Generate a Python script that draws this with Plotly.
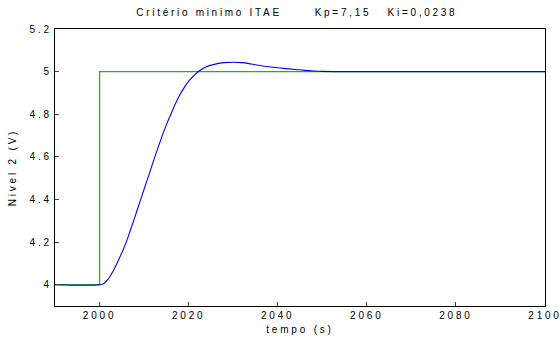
import plotly.graph_objects as go

# Reference (setpoint) step
ref_t = [1990, 2000, 2000, 2100]
ref_y = [4.0, 4.0, 5.0, 5.0]

# Measured level response
resp_t = [1990, 2000, 2001, 2002, 2003, 2004, 2005, 2006, 2007, 2008, 2009, 2010,
          2011, 2012, 2013, 2014, 2015, 2016, 2017, 2018, 2019, 2020, 2021, 2022,
          2023, 2024, 2026, 2028, 2030, 2032, 2034, 2036, 2038, 2040, 2042, 2044,
          2046, 2048, 2050, 2060, 2080, 2100]
resp_y = [4.0, 4.0, 4.006, 4.028, 4.062, 4.104, 4.15, 4.2, 4.26, 4.322, 4.385, 4.448,
          4.511, 4.574, 4.636, 4.695, 4.75, 4.80, 4.848, 4.89, 4.925, 4.955, 4.978, 4.997,
          5.012, 5.023, 5.035, 5.042, 5.044, 5.042, 5.036, 5.029, 5.023, 5.018, 5.014, 5.01,
          5.006, 5.003, 5.001, 5.0, 5.0, 5.0]

x_ticks = [2000, 2020, 2040, 2060, 2080, 2100]
y_ticks = [4.0, 4.2, 4.4, 4.6, 4.8, 5.0, 5.2]
y_tick_text = ["4", "4.2", "4.4", "4.6", "4.8", "5", "5.2"]

fig = go.Figure()
fig.add_trace(go.Scatter(x=ref_t, y=ref_y, mode="lines",
                         line=dict(color="#22b022", width=1.3), showlegend=False))
fig.add_trace(go.Scatter(x=resp_t, y=resp_y, mode="lines",
                         line=dict(color="#0000ff", width=1.1, shape="spline"), showlegend=False))

font = "Liberation Sans, Arial, sans-serif"
fig.update_layout(
    width=560, height=341,
    margin=dict(l=55, r=15, t=29, b=35, autoexpand=False),
    paper_bgcolor="white", plot_bgcolor="white",
    font=dict(family=font, size=10, color="black"),
    title=dict(text="Critério minimo ITAE      Kp=7,15   Ki=0,0238", x=0.53, xanchor="center",
               y=0.962, yanchor="middle", font=dict(size=10)),
    xaxis=dict(range=[1990, 2100], tickvals=x_ticks, ticks="inside", ticklen=4,
               showline=True, linecolor="black", linewidth=1.3, mirror=True,
               showgrid=False, zeroline=False, automargin=False,
               title=dict(text="tempo (s)", standoff=5, font=dict(size=10))),
    yaxis=dict(range=[3.9, 5.2], tickvals=y_ticks, ticktext=y_tick_text, ticks="inside", ticklen=4,
               showline=True, linecolor="black", linewidth=1.3, mirror=True,
               showgrid=False, zeroline=False, automargin=False,
               title=dict(text="Nivel 2 (V)", standoff=19, font=dict(size=10))),
)

post = """
document.body.style.margin = '0';
document.body.style.padding = '0';
var gd = document.getElementById('{plot_id}');
function spaceText(){
  gd.querySelectorAll('.xtick text, .ytick text, .xtitle, .ytitle').forEach(function(e){
    e.setAttribute('letter-spacing', '2.8px');
    e.style.letterSpacing = '2.8px';
  });
  gd.querySelectorAll('.gtitle').forEach(function(e){
    e.setAttribute('letter-spacing', '2.7px');
    e.style.letterSpacing = '2.7px';
  });
}
spaceText();
gd.on('plotly_afterplot', spaceText);
"""

fig.write_html("out.html", post_script=post, config={"displayModeBar": False})
